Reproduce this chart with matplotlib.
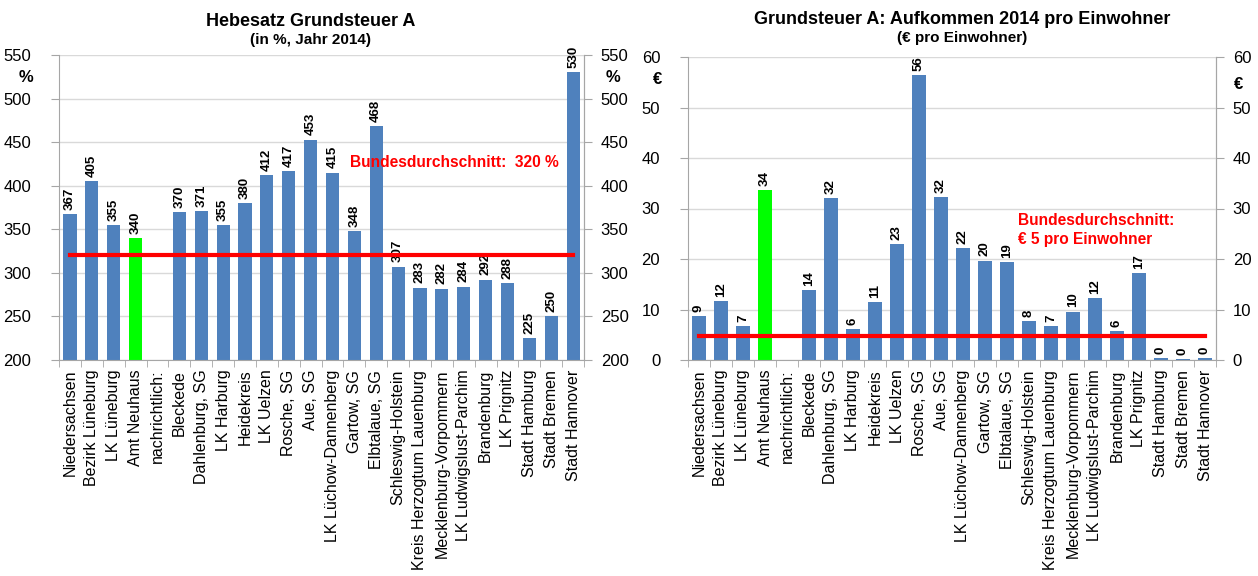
import matplotlib.pyplot as plt
import numpy as np

plt.rcParams['font.family'] = ['Liberation Sans', 'DejaVu Sans']

# ---- data -------------------------------------------------------------
categories = ["Niedersachsen", "Bezirk Lüneburg", "LK Lüneburg", "Amt Neuhaus",
              "nachrichtlich:", "Bleckede", "Dahlenburg, SG", "LK Harburg",
              "Heidekreis", "LK Uelzen", "Rosche, SG", "Aue, SG",
              "LK Lüchow-Dannenberg", "Gartow, SG", "Elbtalaue, SG",
              "Schleswig-Holstein", "Kreis Herzogtum Lauenburg",
              "Mecklenburg-Vorpommern", "LK Ludwigslust-Parchim", "Brandenburg",
              "LK Prignitz", "Stadt Hamburg", "Stadt Bremen", "Stadt Hannover"]

hebesatz = [367, 405, 355, 340, np.nan, 370, 371, 355, 380, 412, 417, 453,
            415, 348, 468, 307, 283, 282, 284, 292, 288, 225, 250, 530]

aufkommen = [8.8, 11.6, 6.8, 33.7, np.nan, 13.9, 32.0, 6.1, 11.4, 23.0, 56.4,
             32.3, 22.1, 19.7, 19.4, 7.8, 6.7, 9.6, 12.2, 5.7, 17.3, 0.4, 0.2, 0.3]

highlight = "Amt Neuhaus"
avg_hebesatz = 320
avg_aufkommen = 4.7

blue = "#4F81BD"
green = "#00FF00"
red = "#FF0000"
grid_col = "#D9D9D9"
axis_col = "#A6A6A6"


def draw_panel(ax, values, ylim, ystep, unit, unit_pos, avg, avg_text, avg_pos,
               label_off):
    x = np.arange(len(categories))
    colors = [green if c == highlight else blue for c in categories]
    base = ylim[0]
    heights = [v - base for v in values]
    ax.bar(x, heights, bottom=base, width=0.6, color=colors, zorder=2)
    ax.set_xlim(-0.5, len(categories) - 0.5)
    ax.set_ylim(*ylim)
    ticks = np.arange(ylim[0], ylim[1] + ystep / 2, ystep)
    ax.set_yticks(ticks)
    ax.yaxis.grid(True, color=grid_col, lw=1, zorder=0)
    ax.set_axisbelow(True)

    ax.spines["top"].set_visible(False)
    for s in ["left", "right", "bottom"]:
        ax.spines[s].set_color(axis_col)

    ax.tick_params(axis="y", left=True, right=False, labelsize=12,
                   color=axis_col, length=6, pad=14)
    sec = ax.secondary_yaxis("right")
    sec.set_yticks(ticks)
    sec.spines["right"].set_color(axis_col)
    sec.tick_params(axis="y", labelsize=12, color=axis_col, length=6, pad=6)

    ax.set_xticks(x)
    ax.set_xticklabels(categories, rotation=90, fontsize=11.5)
    ax.tick_params(axis="x", which="major", length=0, pad=7)
    ax.set_xticks(np.arange(-0.5, len(categories), 1), minor=True)
    ax.tick_params(axis="x", which="minor", length=5, color=axis_col)

    for xi, v in zip(x, values):
        if np.isnan(v):
            continue
        ax.text(xi, v + label_off, "%.0f" % v, rotation=90, ha="center",
                va="bottom", fontsize=9.5, fontweight="bold", clip_on=False)

    ax.plot([x[0], x[-1]], [avg, avg], color=red, lw=3, zorder=3)
    ax.text(avg_pos[0], avg_pos[1], avg_text, color=red, fontsize=11.2,
            fontweight="bold", ha="left", va="center", linespacing=1.3)

    # unit labels under the top tick on both sides
    ax.text(unit_pos[0], unit_pos[1], unit, transform=ax.transAxes,
            ha="center", va="center", fontsize=12, fontweight="bold")
    ax.text(unit_pos[2], unit_pos[3], unit, transform=ax.transAxes,
            ha="center", va="center", fontsize=12, fontweight="bold")


W, H = 1258, 576
fig = plt.figure(figsize=(W / 100, H / 100), dpi=100)
ax1 = fig.add_axes([59 / W, 1 - 360 / H, 525 / W, 305 / H])
ax2 = fig.add_axes([688 / W, 1 - 360 / H, 528 / W, 303 / H])

draw_panel(ax1, hebesatz, (200, 550), 50, "%", (-0.063, 0.925, 1.055, 0.925),
           avg_hebesatz, "Bundesdurchschnitt:  320 %", (12.8, 427), 5)
draw_panel(ax2, aufkommen, (0, 60), 10, "€", (-0.057, 0.927, 1.042, 0.908),
           avg_aufkommen, "Bundesdurchschnitt:\n€ 5 pro Einwohner", (14.5, 25.8), 0.8)

fig.text(311 / W, 1 - 21 / H, "Hebesatz Grundsteuer A", ha="center",
         va="center", fontsize=13, fontweight="bold")
fig.text(311 / W, 1 - 40 / H, "(in %, Jahr 2014)", ha="center",
         va="center", fontsize=11, fontweight="bold")
fig.text(962 / W, 1 - 19 / H, "Grundsteuer A: Aufkommen 2014 pro Einwohner",
         ha="center", va="center", fontsize=13, fontweight="bold")
fig.text(962 / W, 1 - 38 / H, "(€ pro Einwohner)", ha="center",
         va="center", fontsize=11, fontweight="bold")

fig.savefig("out.png", dpi=100, facecolor="white")
